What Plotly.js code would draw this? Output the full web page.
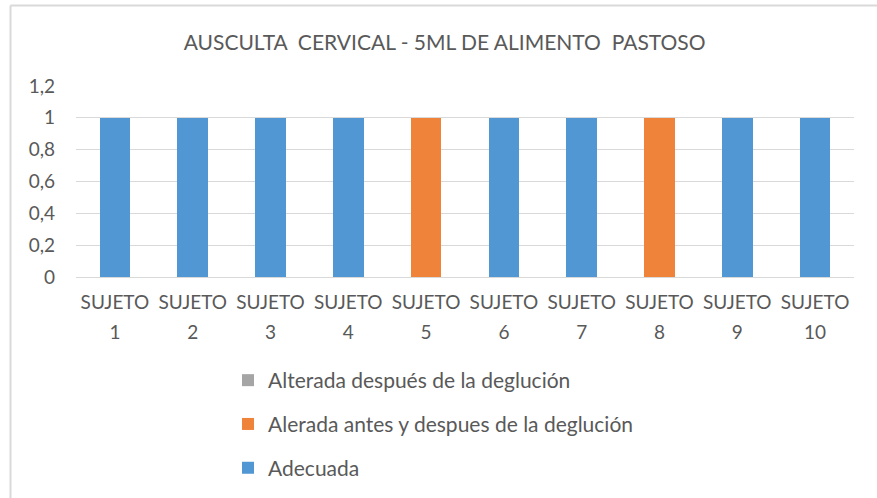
<!DOCTYPE html>
<html>
<head>
<meta charset="utf-8">
<script src="https://cdn.plot.ly/plotly-3.0.1.min.js"></script>
<style>html,body{margin:0;padding:0;background:#fff;}#chart{width:877px;height:498px;}</style>
</head>
<body>
<div id="chart"></div>
<script>
const categories = ["SUJETO 1","SUJETO 2","SUJETO 3","SUJETO 4","SUJETO 5","SUJETO 6","SUJETO 7","SUJETO 8","SUJETO 9","SUJETO 10"];
const tickWord = ["SUJETO","SUJETO","SUJETO","SUJETO","SUJETO","SUJETO","SUJETO","SUJETO","SUJETO","SUJETO"];
const tickNumber = ["1","2","3","4","5","6","7","8","9","10"];
const alteradaDespues = [0,0,0,0,0,0,0,0,0,0];
const alteradaAntesDespues = [0,0,0,0,1,0,0,1,0,0];
const adecuada = [1,1,1,1,0,1,1,0,1,1];
const yTicks = [0,0.2,0.4,0.6,0.8,1,1.2];
const seriesNames = ["Alterada después de la deglución","Alerada antes y despues de la deglución","Adecuada"];

const FONT = "Lato, 'Open Sans', sans-serif";
const GREY_TXT = "#595959";

const traces = [
  {type:"bar", x:categories, y:alteradaDespues, name:seriesNames[0], marker:{color:"#A5A5A5"}, legendgroup:"a", hoverinfo:"skip"},
  {type:"bar", x:categories, y:alteradaAntesDespues, name:seriesNames[1], marker:{color:"#F0833A"}, legendgroup:"b", hoverinfo:"skip"},
  {type:"bar", x:categories, y:adecuada, name:seriesNames[2], marker:{color:"#5197D3"}, legendgroup:"c", hoverinfo:"skip"},
  {type:"scatter", mode:"none", x:categories, y:alteradaDespues, xaxis:"x2", showlegend:false, hoverinfo:"skip"}
];

const layout = {
  width:877, height:498,
  margin:{l:76, r:23, t:86, b:221, autoexpand:false},
  paper_bgcolor:"#fff", plot_bgcolor:"#fff",
  font:{family:FONT, color:GREY_TXT, size:19},
  title:{text:"AUSCULTA  CERVICAL - 5ML DE ALIMENTO  PASTOSO", font:{family:FONT, size:21, color:GREY_TXT}, x:0.507, xanchor:"center", y:0.914, yanchor:"middle"},
  barmode:"stack",
  bargap:0.607,
  separators:",.",
  showlegend:true,
  legend:{orientation:"v", x:0.1954, y:-0.4346, xanchor:"left", yanchor:"top",
          traceorder:"grouped", tracegroupgap:13.5, font:{family:FONT, size:21, color:GREY_TXT}, bgcolor:"rgba(0,0,0,0)"},
  xaxis:{type:"category", tickvals:categories, ticktext:tickWord, showgrid:false, showline:false, zeroline:false, automargin:false, tickangle:0,
         ticks:"", tickfont:{family:FONT, size:19, color:GREY_TXT}, ticklabelstandoff:12, fixedrange:true},
  xaxis2:{type:"category", overlaying:"x", matches:"x", anchor:"y", side:"bottom", tickvals:categories, ticktext:tickNumber, automargin:false, tickangle:0,
          showgrid:false, showline:false, zeroline:false, ticks:"", tickfont:{family:FONT, size:19, color:GREY_TXT}, ticklabelstandoff:42},
  yaxis:{range:[0,1.2], tickvals:yTicks, showgrid:true, gridcolor:"#D9D9D9", gridwidth:1, zeroline:true, zerolinecolor:"#D9D9D9", automargin:false,
         showline:false, ticks:"", tickfont:{family:FONT, size:19, color:GREY_TXT}, ticklabelstandoff:20, fixedrange:true},
  shapes:[
    {type:"line", xref:"paper", yref:"paper", x0:-0.0842, x1:1.2, y0:1.4215, y1:1.4215, line:{color:"#D9D9D9", width:2}, layer:"below"},
    {type:"line", xref:"paper", yref:"paper", x0:-0.0842, x1:-0.0842, y0:-2, y1:1.4215, line:{color:"#D9D9D9", width:2}, layer:"below"}
  ]
};

Plotly.newPlot("chart", traces, layout, {staticPlot:true, displayModeBar:false});
</script>
</body>
</html>
